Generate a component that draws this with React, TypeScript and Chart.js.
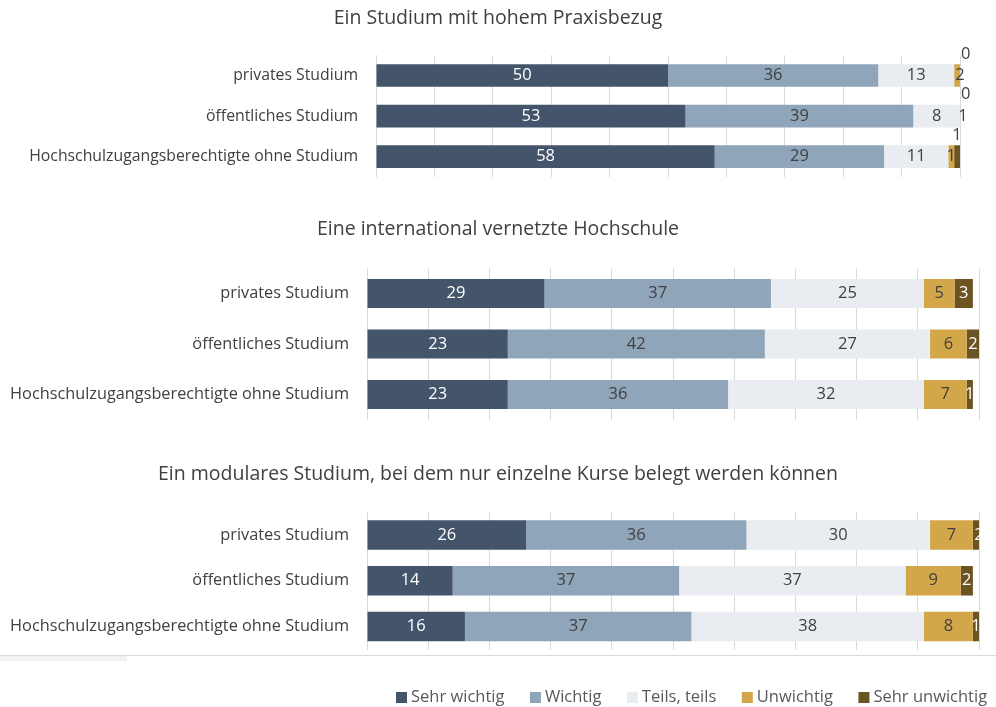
import React, { useEffect, useRef } from 'react';
import { Chart, registerables } from 'chart.js';

Chart.register(...registerables);

// ---------- data ----------
const categories = ['privates Studium', 'öffentliches Studium', 'Hochschulzugangsberechtigte ohne Studium'];
const seriesNames = ['Sehr wichtig', 'Wichtig', 'Teils, teils', 'Unwichtig', 'Sehr unwichtig'];

const titlePraxis = 'Ein Studium mit hohem Praxisbezug';
const praxisSehrWichtig = [50, 53, 58];
const praxisWichtig = [36, 39, 29];
const praxisTeils = [13, 8, 11];
const praxisUnwichtig = [2, 1, 1];
const praxisSehrUnwichtig = [0, 0, 1];

const titleIntl = 'Eine international vernetzte Hochschule';
const intlSehrWichtig = [29, 23, 23];
const intlWichtig = [37, 42, 36];
const intlTeils = [25, 27, 32];
const intlUnwichtig = [5, 6, 7];
const intlSehrUnwichtig = [3, 2, 1];

const titleModular = 'Ein modulares Studium, bei dem nur einzelne Kurse belegt werden können';
const modSehrWichtig = [26, 14, 16];
const modWichtig = [36, 37, 37];
const modTeils = [30, 37, 38];
const modUnwichtig = [7, 9, 8];
const modSehrUnwichtig = [2, 2, 1];

const axisMax = 100;
const axisStep = 10;

// ---------- styles ----------
const FONT = "'Open Sans', 'Noto Sans', sans-serif";
const seriesColors = ['#44546A', '#8FA5BA', '#E9ECF0', '#D4A64A', '#6B5322'];
const valueColors = ['#FFFFFF', '#404040', '#404040', '#404040', '#FFFFFF'];
const TEXT = '#404040';
const GRID = '#D9D9D9';
const W = 996;

const segmentLabels = {
  id: 'segmentLabels',
  afterDatasetsDraw(chart: any, _args: any, opts: any) {
    const ctx = chart.ctx;
    ctx.save();
    ctx.font = `${opts.size || 15}px ${FONT}`;
    ctx.textAlign = 'center';
    ctx.textBaseline = 'middle';
    const last = chart.data.datasets.length - 1;
    chart.data.datasets.forEach((ds: any, di: number) => {
      const meta = chart.getDatasetMeta(di);
      meta.data.forEach((bar: any, i: number) => {
        const v = ds.data[i];
        const p = bar.getProps(['x', 'y', 'base', 'height'], true);
        const cx = (p.x + p.base) / 2;
        let cy = p.y;
        let color = valueColors[di];
        if (opts.lastAbove && di === last) {
          cy = p.y - p.height / 2 - 10;
          color = TEXT;
        }
        ctx.fillStyle = color;
        ctx.fillText(String(v), cx, cy);
      });
    });
    ctx.restore();
  },
};

const bottomDecor = {
  id: 'bottomDecor',
  afterDraw(chart: any, _args: any, opts: any) {
    if (!opts || !opts.enabled) return;
    const ctx = chart.ctx;
    ctx.save();
    ctx.strokeStyle = GRID;
    ctx.lineWidth = 1;
    ctx.beginPath();
    ctx.moveTo(0, opts.lineY + 0.5);
    ctx.lineTo(W, opts.lineY + 0.5);
    ctx.stroke();
    ctx.fillStyle = '#F2F2F2';
    ctx.fillRect(0, opts.lineY + 1, 127, 5);
    // legend
    ctx.font = `16.5px ${FONT}`;
    ctx.textBaseline = 'middle';
    ctx.textAlign = 'left';
    let x = opts.legendX;
    const y = opts.legendY;
    chart.data.datasets.forEach((ds: any) => {
      ctx.fillStyle = ds.backgroundColor;
      ctx.fillRect(x, y - 5, 11, 11);
      x += 15;
      ctx.fillStyle = '#595959';
      ctx.fillText(ds.label, x, y);
      x += ctx.measureText(ds.label).width + 25.5;
    });
    ctx.restore();
  },
};

type PanelProps = {
  title: string;
  series: number[][];
  top: number;
  height: number;
  left: number;
  right: number;
  titleTop: number;
  titleBottom: number;
  bottomPad: number;
  barPct: number;
  tickSize: number;
  valueSize: number;
  lastAbove?: boolean;
  decor?: { enabled: boolean; lineY: number; legendX: number; legendY: number };
};

function Panel(p: PanelProps) {
  const ref = useRef<HTMLCanvasElement>(null);
  useEffect(() => {
    const chart = new Chart(ref.current as HTMLCanvasElement, {
      type: 'bar',
      data: {
        labels: categories,
        datasets: seriesNames.map((name, i) => ({
          label: name,
          data: p.series[i],
          backgroundColor: seriesColors[i],
          borderWidth: 0,
          categoryPercentage: 1,
          barPercentage: p.barPct,
        })),
      },
      options: {
        indexAxis: 'y',
        responsive: false,
        animation: false,
        layout: { padding: { left: 0, right: 0, top: 0, bottom: p.bottomPad } },
        scales: {
          x: {
            stacked: true,
            min: 0,
            max: axisMax,
            ticks: { display: false, stepSize: axisStep },
            grid: { color: GRID, drawTicks: false },
            border: { display: false },
          },
          y: {
            stacked: true,
            grid: { display: false, drawTicks: false },
            border: { display: false },
            ticks: { color: TEXT, font: { family: FONT, size: p.tickSize }, padding: 18 },
            afterFit: (s: any) => {
              s.width = p.left;
            },
          },
          yRight: {
            type: 'linear',
            position: 'right',
            display: true,
            grid: { display: false, drawTicks: false },
            border: { display: false },
            ticks: { display: false },
            afterFit: (s: any) => {
              s.width = W - p.right;
            },
          },
        },
        plugins: {
          legend: { display: false },
          tooltip: { enabled: false },
          title: {
            display: true,
            text: p.title,
            color: TEXT,
            font: { family: FONT, size: 19.5, weight: 'normal' },
            padding: { top: p.titleTop, bottom: p.titleBottom },
          },
          segmentLabels: { size: p.valueSize, lastAbove: !!p.lastAbove },
          bottomDecor: p.decor || { enabled: false },
        } as any,
      } as any,
      plugins: [segmentLabels, bottomDecor],
    });
    return () => chart.destroy();
  }, []);
  return (
    <canvas
      ref={ref}
      width={W}
      height={p.height}
      style={{ position: 'absolute', left: 0, top: p.top, width: W, height: p.height }}
    />
  );
}

export default function App() {
  return (
    <div style={{ position: 'absolute', left: 0, top: 0, width: W, height: 707, background: '#fff', overflow: 'hidden' }}>
      <Panel
        title={titlePraxis}
        series={[praxisSehrWichtig, praxisWichtig, praxisTeils, praxisUnwichtig, praxisSehrUnwichtig]}
        top={0}
        height={207}
        left={376}
        right={960}
        titleTop={6.3}
        titleBottom={25.5}
        bottomPad={30}
        barPct={0.56}
        tickSize={15.8}
        valueSize={16.5}
        lastAbove
      />
      <Panel
        title={titleIntl}
        series={[intlSehrWichtig, intlWichtig, intlTeils, intlUnwichtig, intlSehrUnwichtig]}
        top={190}
        height={260}
        left={367}
        right={979}
        titleTop={27.3}
        titleBottom={27.5}
        bottomPad={30.25}
        barPct={0.575}
        tickSize={16.3}
        valueSize={16.5}
      />
      <Panel
        title={titleModular}
        series={[modSehrWichtig, modWichtig, modTeils, modUnwichtig, modSehrUnwichtig]}
        top={440}
        height={267}
        left={367}
        right={979}
        titleTop={22.3}
        titleBottom={26.3}
        bottomPad={57.5}
        barPct={0.645}
        tickSize={16.3}
        valueSize={16.5}
        decor={{ enabled: true, lineY: 215, legendX: 396, legendY: 257 }}
      />
    </div>
  );
}
